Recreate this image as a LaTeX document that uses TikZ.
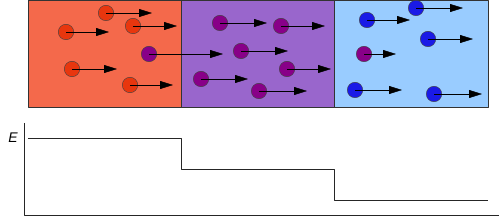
\documentclass[tikz,border=0pt]{standalone}
\usepackage{fontspec}
\setsansfont{Liberation Sans}
\usetikzlibrary{arrows.meta}
\definecolor{hotzone}{HTML}{F4694B}
\definecolor{midzone}{HTML}{9966CC}
\definecolor{coldzone}{HTML}{99CCFF}
\definecolor{hotdot}{HTML}{E8360E}
\definecolor{middot}{HTML}{880088}
\definecolor{colddot}{HTML}{1A1AE6}
\tikzset{
  >={Triangle[length=13pt, width=8pt]},
  every picture/.style={line join=round},
  zone/.style={draw=black!80, thin},
  particle/.style={circle, draw=black!75, thin, minimum size=15.5pt, inner sep=0pt},
  velo/.style={->, thin},
  axis/.style={thin, black!85},
  level/.style={thin, black!85},
}
\begin{document}
\begin{tikzpicture}[x=1pt, y=-1pt]
  \useasboundingbox (0,0) rectangle (500,216);
  % ---------------- three zones
  \filldraw[zone, fill=hotzone] (28,0.5) rectangle (181.5,107);
  \filldraw[zone, fill=midzone] (181.5,0.5) rectangle (334.5,107);
  \filldraw[zone, fill=coldzone] (334.5,0.5) rectangle (488,107);
  % ---------------- particles: centre x / centre y / tip x / colour
  \foreach \px/\py/\tx/\col [count=\i] in {
      106/13/152/hotdot, 66/32/109/hotdot, 133/26/177/hotdot,
      72/69/117/hotdot, 130/85/173/hotdot, 149/54/223/middot,
      220/23/267/middot, 281/26/325/middot, 241/51/288/middot,
      287/69/331/middot, 201/79/248/middot, 259/91/307/middot,
      416/8/463/colddot, 367/20/410/colddot, 428/39/473/colddot,
      364/54/396/middot, 355/90/402/colddot, 434/94/482/colddot}{
    \node[particle, fill=\col] (p\i) at (\px,\py) {};
    \coordinate (t\i) at (\tx,\py);
    \draw[velo] (p\i.center) -- (t\i);
  }
  % ---------------- energy levels
  \draw[axis] (24.5,123) -- (24.5,215) -- (499,215);
  \node[font=\fontsize{14}{16}\selectfont\sffamily\itshape] (elabel) at (13,138) {E};
  \draw[level] (28,138) -- (181,138) -- (181,169) -- (334,169)
    -- (334,200) -- (488,200);
\end{tikzpicture}
\end{document}
